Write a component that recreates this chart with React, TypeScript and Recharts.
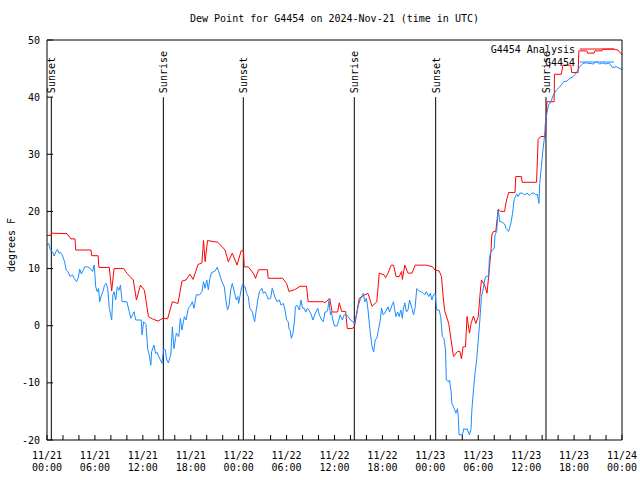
import React from 'react';
import { LineChart, Line, XAxis, YAxis, ReferenceLine, Legend } from 'recharts';

const FONT = '"DejaVu Sans Mono", "Liberation Mono", monospace';

// hours since 11/21 00:00 UTC, dew point in °F
const analysisHours = [
  0, 0.5, 0.55, 2.5, 3.0, 3.5, 3.6, 5.5, 5.6, 6.4, 6.5, 7.8, 8.1, 8.4, 9.6, 10.0, 10.8, 11.2, 11.7, 12.2,
  12.7, 13.2, 13.9, 14.5, 15.1, 15.7, 16.4, 16.9, 17.4, 17.9, 18.3, 18.9, 19.4, 19.6, 19.8, 20.1, 21.4, 22.3,
  22.7, 23.2, 23.8, 24.3, 24.6, 24.7, 25.2, 25.9, 26.1, 26.5, 27.6, 27.7, 29.5, 30.0, 30.3, 31.0, 31.7, 32.5,
  32.7, 34.6, 34.8, 35.4, 35.7, 36.4, 36.6, 36.9, 37.4, 37.6, 38.2, 38.5, 38.8, 39.1, 39.8, 40.2, 40.7, 41.3,
  41.6, 42.2, 42.4, 42.7, 43.1, 43.4, 43.7, 44.1, 44.4, 44.5, 44.8, 45.2, 45.7, 46.1, 47.5, 48.3, 48.6, 49.1,
  49.4, 49.6, 49.8, 50.3, 50.6, 50.9, 51.4, 51.7, 51.9, 52.1, 52.4, 52.6, 52.9, 53.1, 53.4, 53.7, 54.0, 54.2,
  54.4, 54.8, 55.1, 55.3, 55.6, 55.7, 55.9, 56.2, 56.5, 56.8, 57.3, 57.5, 57.8, 58.6, 58.7, 59.4, 59.5, 61.3,
  61.5, 61.8, 62.4, 62.6, 63.5, 63.55, 64.4, 64.6, 65.6, 65.7, 66.5, 66.6, 67.6, 67.7, 68.5, 68.6, 69.5, 69.6,
  71.0, 71.5, 72.0,
];
const analysisValues = [
  15.8, 15.8, 16.2, 16.1, 15.2, 15.2, 13.25, 13.25, 12.25, 12.25, 10.2, 10.2, 6.1, 10.0, 10.0, 9.2, 8.0, 4.5, 7.1, 6.2,
  1.6, 1.2, 0.8, 1.3, 1.2, 4.2, 3.9, 7.8, 8.0, 9.0, 8.1, 10.7, 11.0, 14.9, 11.2, 14.9, 14.6, 13.25,
  11.2, 12.7, 10.6, 13.1, 13.1, 10.3, 10.3, 9.05, 8.3, 9.8, 9.8, 8.3, 8.3, 7.4, 6.0, 6.3, 6.9, 6.9,
  4.2, 4.2, 4.0, 4.8, 2.4, 2.4, 4.0, 2.5, 2.5, -0.5, -0.5, -0.2, 2.4, 4.8, 5.4, 5.65, 3.4, 4.2,
  9.2, 8.9, 8.4, 9.2, 10.6, 10.6, 8.6, 8.6, 9.5, 8.1, 10.6, 9.2, 9.2, 10.6, 10.6, 10.3, 9.7, 9.6,
  8.6, 5.1, 2.6, 0.4, -2.5, -5.4, -4.5, -4.5, -5.8, -3.7, -3.7, 1.6, -1.3, 0.4, 1.7, 0.4, 1.6, 5.1,
  8.0, 7.1, 5.7, 8.6, 13.25, 15.9, 16.5, 16.5, 20.4, 20.0, 20.0, 21.7, 23.3, 23.3, 26.1, 26.1, 25.1, 25.1,
  32.6, 33.1, 33.1, 39.2, 39.2, 44.0, 44.0, 45.6, 45.6, 44.3, 44.3, 48.1, 48.1, 47.7, 47.7, 48.1, 48.1, 48.4,
  48.4, 48.25, 47.4,
];

const stationHours = [
  0, 0.2, 0.4, 0.7, 0.9, 1.1, 1.3, 1.5, 1.7, 1.9, 2.2, 2.4, 2.6, 2.9, 3.2, 3.4, 3.7, 3.9, 4.1, 4.3,
  4.6, 4.7, 5.1, 5.5, 5.7, 5.9, 6.0, 6.1, 6.3, 6.45, 6.6, 6.8, 7.0, 7.2, 7.4, 7.6, 7.8, 8.1, 8.25, 8.4,
  8.6, 8.8, 9.0, 9.2, 9.4, 10.0, 10.3, 10.5, 10.7, 10.9, 11.1, 11.8, 11.9, 12.1, 12.4, 12.6, 12.8, 13.0, 13.1, 13.4,
  13.6, 13.8, 14.0, 14.4, 14.6, 14.8, 15.0, 15.2, 15.5, 15.7, 15.9, 16.2, 16.5, 16.7, 16.9, 17.2, 17.4, 17.7, 18.0, 18.2,
  18.4, 18.7, 19.1, 19.4, 19.6, 19.8, 20.0, 20.2, 20.4, 20.6, 21.0, 21.3, 21.5, 21.9, 22.2, 22.4, 22.6, 22.8, 23.0, 23.2,
  23.4, 23.7, 23.9, 24.0, 24.3, 24.5, 24.8, 25.0, 25.2, 25.4, 25.7, 26.0, 26.2, 26.4, 26.6, 26.9, 27.1, 27.3, 27.5, 27.7,
  28.0, 28.2, 28.4, 28.6, 28.8, 29.1, 29.3, 29.6, 29.8, 30.0, 30.2, 30.3, 30.45, 30.6, 30.8, 31.0, 31.1, 31.3, 31.6, 31.8,
  32.0, 32.2, 32.4, 32.6, 32.8, 33.1, 33.3, 33.6, 33.9, 34.1, 34.4, 34.6, 34.8, 35.0, 35.15, 35.3, 35.5, 35.6, 35.8, 36.0,
  36.3, 36.5, 36.7, 37.0, 37.2, 37.5, 37.7, 38.0, 38.3, 38.5, 38.8, 39.0, 39.2, 39.4, 39.6, 39.8, 40.0, 40.2, 40.4, 40.7,
  40.9, 41.1, 41.3, 41.5, 41.7, 41.9, 42.1, 42.3, 42.5, 42.7, 42.9, 43.2, 43.4, 43.5, 43.7, 43.9, 44.1, 44.3, 44.5, 44.6,
  44.8, 45.0, 45.2, 45.4, 45.7, 45.9, 46.1, 46.3, 46.5, 46.7, 46.9, 47.1, 47.3, 47.5, 47.8, 48.0, 48.2, 48.4, 48.6, 48.7,
  48.8, 49.1, 49.3, 49.5, 49.7, 49.9, 50.0, 50.3, 50.4, 50.6, 50.7, 51.0, 51.2, 51.4, 51.5, 51.6, 52.0, 52.2, 52.5, 52.6,
  52.9, 53.1, 53.2, 53.4, 53.6, 53.8, 54.0, 54.2, 54.4, 54.6, 54.8, 55.0, 55.3, 55.4, 55.6, 55.8, 56.0, 56.1, 56.3, 56.5,
  56.7, 56.9, 57.1, 57.3, 57.5, 57.8, 58.1, 58.3, 58.5, 58.8, 59.0, 59.2, 59.5, 59.8, 60.1, 60.4, 60.7, 61.0, 61.2, 61.4,
  61.6, 61.7, 61.9, 62.1, 62.3, 62.4, 62.6, 62.8, 63.1, 63.4, 63.8, 64.2, 64.7, 65.1, 65.5, 65.9, 66.3, 66.7, 67.1, 67.5,
  68.0, 68.4, 68.8, 69.2, 69.6, 70.0, 70.4, 70.8, 71.3, 71.9, 72.0,
];
const stationValues = [
  14.1, 14.4, 13.35, 12.9, 12.2, 12.9, 13.35, 12.7, 12.8, 12.4, 11.2, 9.75, 9.5, 8.6, 8.9, 8.3, 7.7, 8.3, 9.9, 9.05,
  9.9, 10.3, 10.3, 9.9, 9.5, 10.6, 9.0, 6.8, 5.95, 6.5, 4.2, 5.3, 5.95, 7.1, 7.4, 6.5, 3.05, 1.0, 5.4, 5.95,
  4.5, 6.8, 6.2, 7.1, 4.2, 4.2, 2.45, 1.3, 1.9, 2.45, 1.0, 1.0, -1.6, 0.7, 0.2, -4.0, -5.1, -6.9, -4.55, -3.4,
  -4.85, -4.7, -5.4, -6.6, -4.1, -4.2, -6.0, -6.5, -5.1, -0.2, -4.0, -1.3, -1.9, 1.3, -0.75, 1.6, 1.0, 3.05, 3.6, 4.2,
  3.05, 5.4, 5.4, 5.95, 7.7, 6.55, 8.0, 6.3, 8.3, 9.3, 9.5, 10.2, 9.5, 7.7, 6.8, 4.5, 2.75, 3.6, 6.25, 7.4,
  6.25, 4.5, 5.1, 3.9, 6.25, 7.3, 6.8, 5.65, 5.1, 3.05, 2.45, 0.7, 2.75, 4.5, 5.95, 6.55, 5.65, 5.95, 5.4, 4.65,
  4.8, 6.55, 5.65, 4.8, 4.2, 4.5, 3.6, 3.9, 2.75, 1.0, 0.7, -0.5, -0.8, -2.2, -1.3, 1.0, 3.3, 3.6, 2.75, 4.5,
  3.05, 3.05, 2.4, 3.05, 2.75, 1.9, 1.0, 2.2, 3.05, 1.9, 1.0, 0.7, 2.4, 2.4, 2.75, 4.4, 1.9, 2.4, 1.0, -0.05,
  -0.05, 0.7, 1.9, 1.0, 1.9, 1.9, 1.6, 1.0, 0.7, 0.3, 2.2, 3.6, 4.5, 5.1, 5.65, 4.2, 4.8, 2.75, -0.2, -3.7,
  -4.6, -2.5, -2.2, -0.75, 0.7, 3.05, 1.9, 2.2, 2.75, 3.3, 2.4, 3.6, 4.2, 3.05, 1.6, 2.4, 1.6, 2.75, 1.3, 2.75,
  4.0, 2.4, 2.75, 4.5, 3.05, 1.9, 3.3, 6.5, 6.25, 5.95, 5.95, 5.65, 5.4, 5.95, 5.1, 5.65, 4.5, 5.4, 5.65, 4.2,
  2.75, 2.75, 1.6, -1.9, -2.2, -4.25, -9.5, -9.8, -9.5, -11.5, -13.6, -14.5, -15.3, -14.5, -15.9, -19.1, -19.1, -18.0, -18.2, -18.0,
  -19.1, -18.0, -14.75, -11.25, -8.3, -6.0, -2.5, 1.0, 5.1, 6.25, 8.0, 8.7, 8.6, 11.9, 13.0, 13.2, 13.6, 15.9, 16.5, 20.25,
  18.2, 18.2, 18.0, 17.8, 17.0, 16.5, 18.0, 19.7, 22.1, 23.05, 22.6, 23.2, 23.2, 22.9, 23.2, 22.8, 23.2, 23.2, 22.9, 23.0,
  21.4, 24.9, 27.8, 30.75, 33.1, 35.4, 37.2, 38.6, 39.2, 40.4, 41.25, 41.8, 42.7, 42.8, 43.3, 43.6, 44.3, 45.3, 45.9, 46.0,
  45.9, 45.8, 46.2, 45.8, 46.0, 45.8, 46.0, 45.2, 45.3, 44.9, 44.9,
];

const xTicks = [
  0, 2, 4, 6, 8, 10, 12, 14, 16, 18, 20, 22, 24, 26, 28, 30, 32, 34, 36,
  38, 40, 42, 44, 46, 48, 50, 52, 54, 56, 58, 60, 62, 64, 66, 68, 70, 72,
];
const dateLabels = ['11/21', '11/21', '11/21', '11/21', '11/22', '11/22', '11/22', '11/22', '11/23', '11/23', '11/23', '11/23', '11/24'];
const timeLabels = ['00:00', '06:00', '12:00', '18:00', '00:00', '06:00', '12:00', '18:00', '00:00', '06:00', '12:00', '18:00', '00:00'];
const yTicks = [-20, -10, 0, 10, 20, 30, 40, 50];

const sunHours = [0.54, 14.57, 24.58, 38.48, 48.67, 62.48];
const sunLabels = ['Sunset', 'Sunrise', 'Sunset', 'Sunrise', 'Sunset', 'Sunrise'];

const seriesNames = ['G4454 Analysis', 'G4454'];

const analysisData = analysisHours.map((h, i) => ({ h, v: analysisValues[i] }));
const stationData = stationHours.map((h, i) => ({ h, v: stationValues[i] }));

function HourTick({ x, y, payload }: any) {
  const i = payload.value / 6;
  if (!Number.isInteger(i)) return <g />;
  return (
    <g>
      <text x={x} y={y + 14} textAnchor="middle" fontSize={10} fontFamily={FONT} fill="#000">
        {dateLabels[i]}
      </text>
      <text x={x} y={y + 26} textAnchor="middle" fontSize={10} fontFamily={FONT} fill="#000">
        {timeLabels[i]}
      </text>
    </g>
  );
}

function sunShape(label: string) {
  return (p: any) => {
    const top = Math.min(p.y1, p.y2);
    const tx = p.x1 + 4;
    const ty = top - 4;
    return (
      <g>
        <line x1={p.x1} y1={p.y1} x2={p.x2} y2={p.y2} stroke="#000" strokeWidth={1} />
        <text x={tx} y={ty} transform={`rotate(-90 ${tx} ${ty})`} fontSize={10} fontFamily={FONT} fill="#000">
          {label}
        </text>
      </g>
    );
  };
}

// legend keeps plot order (analysis first), not alphabetical
function KeyBox({ payload }: any) {
  const items = [...(payload || [])].sort(
    (a: any, b: any) => seriesNames.indexOf(a.value) - seriesNames.indexOf(b.value)
  );
  return (
    <svg width={150} height={30} style={{ overflow: 'visible' }}>
      {items.map((entry: any, i: number) => (
        <g key={entry.value}>
          <text x={105} y={11 + i * 13} textAnchor="end" fontSize={10} fontFamily={FONT} fill="#000">
            {entry.value}
          </text>
          <line x1={110} x2={144} y1={7 + i * 13} y2={7 + i * 13} stroke={entry.color} strokeWidth={1} />
        </g>
      ))}
    </svg>
  );
}

export default function App() {
  return (
    <div style={{ position: 'absolute', left: 0, top: 0, width: 640, height: 480, background: '#fff' }}>
      <div
        style={{
          position: 'absolute', left: 47, top: 13, width: 575, textAlign: 'center',
          fontFamily: FONT, fontSize: 10, lineHeight: '12px', color: '#000',
        }}
      >
        Dew Point for G4454 on 2024-Nov-21 (time in UTC)
      </div>
      <div
        style={{
          position: 'absolute', left: 11, top: 245, transform: 'translate(-50%, -50%) rotate(-90deg)',
          fontFamily: FONT, fontSize: 10, whiteSpace: 'nowrap', color: '#000',
        }}
      >
        degrees F
      </div>
      <LineChart width={640} height={480} margin={{ top: 39, right: 0, bottom: 0, left: 0 }}>
        <XAxis
          xAxisId="bottom"
          dataKey="h"
          type="number"
          domain={[0, 72]}
          ticks={xTicks}
          interval={0}
          allowDataOverflow
          height={40}
          tickSize={-5}
          tickMargin={10}
          tick={<HourTick />}
          axisLine={{ stroke: '#000' }}
          tickLine={{ stroke: '#000' }}
        />
        <XAxis
          xAxisId="top"
          orientation="top"
          type="number"
          domain={[0, 72]}
          ticks={xTicks}
          interval={0}
          height={1}
          tickSize={-5}
          tick={false}
          axisLine={{ stroke: '#000' }}
          tickLine={{ stroke: '#000' }}
        />
        <YAxis
          yAxisId="left"
          type="number"
          domain={[-20, 50]}
          ticks={yTicks}
          interval={0}
          allowDataOverflow
          width={47}
          tickSize={-6}
          tickMargin={13}
          tick={{ fill: '#000', fontSize: 10, fontFamily: FONT }}
          axisLine={{ stroke: '#000' }}
          tickLine={{ stroke: '#000' }}
        />
        <YAxis
          yAxisId="right"
          orientation="right"
          type="number"
          domain={[-20, 50]}
          ticks={yTicks}
          interval={0}
          width={18}
          tickSize={-6}
          tick={false}
          axisLine={{ stroke: '#000' }}
          tickLine={{ stroke: '#000' }}
        />
        {sunHours.map((h, i) => (
          <ReferenceLine
            key={`sun-${i}`}
            xAxisId="bottom"
            yAxisId="left"
            segment={[{ x: h, y: -20 }, { x: h, y: 40 }]}
            stroke="#000"
            shape={sunShape(sunLabels[i])}
          />
        ))}
        <Line
          xAxisId="bottom"
          yAxisId="left"
          data={analysisData}
          dataKey="v"
          name={seriesNames[0]}
          type="linear"
          stroke="#ff0000"
          strokeWidth={1}
          dot={false}
          isAnimationActive={false}
        />
        <Line
          xAxisId="bottom"
          yAxisId="left"
          data={stationData}
          dataKey="v"
          name={seriesNames[1]}
          type="linear"
          stroke="#1a8cff"
          strokeWidth={1}
          dot={false}
          isAnimationActive={false}
        />
        <Legend
          layout="vertical"
          align="center"
          verticalAlign="middle"
          wrapperStyle={{ top: 42, left: 470, width: 150, height: 30 }}
          content={<KeyBox />}
        />
      </LineChart>
    </div>
  );
}
